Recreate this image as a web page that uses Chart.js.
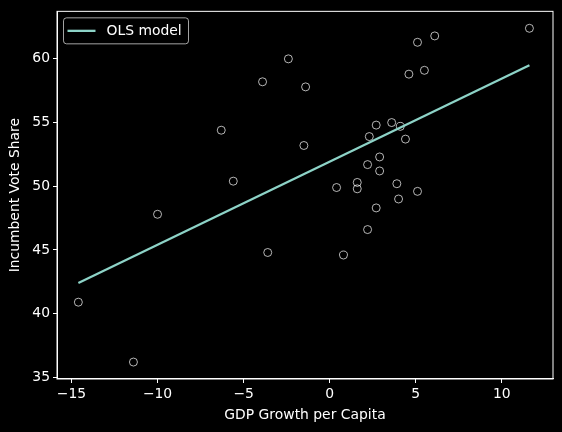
<!DOCTYPE html>
<html>
<head>
<meta charset="utf-8">
<script src="https://cdn.jsdelivr.net/npm/chart.js@4.4.1/dist/chart.umd.min.js"></script>
<style>
  html, body { margin: 0; padding: 0; background: #000; }
  #wrap { width: 562px; height: 432px; }
</style>
</head>
<body>
<div id="wrap"><canvas id="chartArea" width="562" height="432"></canvas></div>
<script>
// elections: GDP growth per capita vs incumbent vote share
var gdpGrowth = [-14.6, -11.4, -10.0, -6.3, -5.6, -3.9, -3.6, -2.4, -1.5, -1.4,
  0.4, 0.8, 1.6, 1.6, 2.2, 2.2, 2.3, 2.7, 2.7, 2.9, 2.9, 3.6, 3.9, 4.0,
  4.1, 4.4, 4.6, 5.1, 5.1, 5.5, 6.1, 11.6]
var voteShare = [40.9, 36.2, 47.8, 54.4, 50.4, 58.2, 44.8, 60.0, 53.2, 57.8,
  49.9, 44.6, 50.3, 49.8, 46.6, 51.7, 53.9, 54.8, 48.3, 52.3, 51.2, 55.0, 50.2, 49.0,
  54.7, 53.7, 58.8, 61.3, 49.6, 59.1, 61.8, 62.4]

var olsX = [-14.6, 11.6]
var olsY = [42.4, 59.5]

var xTicks = [-15, -10, -5, 0, 5, 10]
var yTicks = [35, 40, 45, 50, 55, 60]

var fontFamily = "'DejaVu Sans', sans-serif"
var fontSize = 13.9
var lineColor = '#8dd3c7'

function minusSign(v){
  return String(v).replace('-', '\u2212')
}

var framePlugin = {
  id: 'frame',
  afterDatasetsDraw: function(chart){
    var ctx = chart.ctx
    var a = chart.chartArea
    ctx.save()
    ctx.strokeStyle = '#ffffff'
    ctx.lineWidth = 1
    ctx.strokeRect(a.left, a.top, a.right - a.left, a.bottom - a.top)

    // legend box like matplotlib's
    var bx = a.left + 6.5, by = a.top + 6.5, bw = 125, bh = 26, r = 3
    ctx.beginPath()
    ctx.moveTo(bx + r, by)
    ctx.arcTo(bx + bw, by, bx + bw, by + bh, r)
    ctx.arcTo(bx + bw, by + bh, bx, by + bh, r)
    ctx.arcTo(bx, by + bh, bx, by, r)
    ctx.arcTo(bx, by, bx + bw, by, r)
    ctx.closePath()
    ctx.fillStyle = 'rgba(0,0,0,0.8)'
    ctx.fill()
    ctx.strokeStyle = 'rgba(204,204,204,0.8)'
    ctx.stroke()

    var ds = chart.data.datasets[0]
    ctx.strokeStyle = ds.borderColor
    ctx.lineWidth = ds.borderWidth
    ctx.beginPath()
    ctx.moveTo(bx + 4, by + bh / 2)
    ctx.lineTo(bx + 32, by + bh / 2)
    ctx.stroke()
    ctx.fillStyle = '#ffffff'
    ctx.font = fontSize + 'px ' + fontFamily
    ctx.textBaseline = 'middle'
    ctx.fillText(ds.label, bx + 43, by + bh / 2 + 1)
    ctx.restore()
  }
}

var ctx = document.getElementById('chartArea').getContext('2d')

var myChart = new Chart(ctx, {
  type: 'scatter',
  data: {
    datasets: [
      {
        type: 'line',
        label: 'OLS model',
        data: olsX.map(function(x, i){ return {x: x, y: olsY[i]} }),
        borderColor: lineColor,
        borderWidth: 2.3,
        pointRadius: 0,
        fill: false,
        order: 0
      },
      {
        label: 'elections',
        data: gdpGrowth.map(function(x, i){ return {x: x, y: voteShare[i]} }),
        backgroundColor: 'rgba(0,0,0,0)',
        borderColor: 'rgba(255,255,255,0.7)',
        borderWidth: 1,
        pointRadius: 4,
        order: 1
      }
    ]
  },
  plugins: [framePlugin],
  options: {
    responsive: false,
    animation: false,
    devicePixelRatio: 1,
    layout: { padding: { top: 9, right: 9, left: 0, bottom: 0 } },
    plugins: {
      legend: { display: false },
      tooltip: { enabled: false }
    },
    scales: {
      x: {
        type: 'linear',
        min: -15.84,
        max: 12.97,
        afterBuildTicks: function(scale){
          scale.ticks = xTicks.map(function(v){ return {value: v} })
        },
        afterFit: function(scale){ scale.height = 53 },
        grid: { drawOnChartArea: false, drawTicks: true, tickLength: 4, color: '#ffffff' },
        border: { color: '#ffffff' },
        ticks: {
          color: '#ffffff',
          padding: 3,
          font: { family: fontFamily, size: fontSize },
          maxRotation: 0,
          callback: minusSign
        },
        title: {
          display: true,
          text: 'GDP Growth per Capita',
          color: '#ffffff',
          font: { family: fontFamily, size: fontSize },
          padding: { top: 0, bottom: 8 }
        }
      },
      y: {
        type: 'linear',
        min: 34.87,
        max: 63.73,
        afterBuildTicks: function(scale){
          scale.ticks = yTicks.map(function(v){ return {value: v} })
        },
        afterFit: function(scale){ scale.width = 57 },
        grid: { drawOnChartArea: false, drawTicks: true, tickLength: 4, color: '#ffffff' },
        border: { color: '#ffffff' },
        ticks: {
          color: '#ffffff',
          padding: 3,
          font: { family: fontFamily, size: fontSize },
          callback: minusSign
        },
        title: {
          display: true,
          text: 'Incumbent Vote Share',
          color: '#ffffff',
          font: { family: fontFamily, size: fontSize },
          padding: { top: 7, bottom: 0 }
        }
      }
    }
  }
})
</script>
</body>
</html>
